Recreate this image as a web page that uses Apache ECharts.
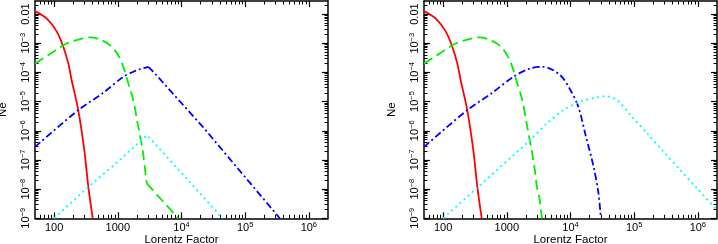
<!DOCTYPE html>
<html><head><meta charset="utf-8">
<script src="https://cdn.jsdelivr.net/npm/echarts@6/dist/echarts.min.js"></script>
<style>html,body{margin:0;padding:0;background:#fff}#c{width:718px;height:244px}</style>
</head><body><div id="c"></div>
<script>
// ---- tick labels ----
const xTickValues = [100, 1000, 1e4, 1e5, 1e6];
const xTickLabels = ['100', '1000', '10^4', '10^5', '10^6'];
const yTickValues = [1e-9, 1e-8, 1e-7, 1e-6, 1e-5, 1e-4, 1e-3, 1e-2];
const yTickLabels = ['10^−9', '10^−8', '10^−7', '10^−6', '10^−5', '10^−4', '10^−3', '0.01'];
const xName = 'Lorentz Factor';
const yName = 'Ne';

// ---- series values [Lorentz factor, Ne] ----
// left panel
const redLeft = [[50,0.0126],[76,7.1e-3],[110,2.5e-3],[139,7.6e-4],[167,2.0e-4],[188,5.5e-5],[239,5.1e-6],[297,2.2e-7],[344,1.2e-8],[403,1e-9]];
const greenLeftCore = [[50,2.0e-4],[97,5.1e-4],[157,9.8e-4],[255,1.38e-3],[366,1.58e-3],[525,1.35e-3],[753,8.6e-4],[1017,3.9e-4],[1218,1.55e-4],[1460,4.2e-5],[1750,1.12e-5],[2090,1.38e-6],[2450,2.2e-7],[2830,1.6e-8]];
const greenLeftTail = [[2830,1.6e-8],[4000,6.9e-9],[6000,2.6e-9],[8900,1e-9]];
const blueLeftRise = [[50,2.8e-7],[239,5.1e-6],[590,2.0e-5],[1220,7.1e-5],[1750,1.05e-4],[2230,1.29e-4],[3010,1.55e-4]];
const blueLeftFall = [[3010,1.55e-4],[3610,1.05e-4],[2.2e4,1.3e-6],[3.5e5,1e-9]];
const cyanLeft = [[100,1e-9],[330,1.1e-8],[1080,1.0e-7],[2840,7e-7],[3610,4.2e-7],[4.4e4,1e-9]];
// right panel
const redRight = [[50,0.0126],[76,7.1e-3],[110,2.5e-3],[139,7.6e-4],[167,2.0e-4],[188,5.5e-5],[239,5.1e-6],[297,2.2e-7],[344,1.2e-8],[403,1e-9]];
const greenRight = [[50,2.0e-4],[97,5.1e-4],[157,9.8e-4],[255,1.38e-3],[366,1.58e-3],[525,1.35e-3],[753,8.6e-4],[1017,3.9e-4],[1218,1.55e-4],[1460,4.2e-5],[1750,1.12e-5],[2090,1.38e-6],[2450,2.2e-7],[2780,4e-8],[2960,1.2e-8],[3250,5e-9],[3550,1e-9]];
const blueRight = [[50,2.8e-7],[239,5.1e-6],[590,2.0e-5],[1270,7.1e-5],[2320,1.37e-4],[3760,1.55e-4],[6870,8.1e-5],[9860,2.6e-5],[1.33e4,6.6e-6],[1.7e4,8.1e-7],[2.3e4,5.9e-8],[2.75e4,7.2e-9],[3.0e4,1e-9]];
const cyanRight = [[100,1e-9],[336,1.07e-8],[2320,4.8e-7],[4250,1.78e-6],[7770,5.1e-6],[1.42e4,1.0e-5],[2.6e4,1.38e-5],[3.5e4,1.55e-5],[5.4e4,1.12e-5],[8.7e4,3.5e-6],[1.6e5,8.1e-7],[2.9e5,1.9e-7],[5.3e5,4.5e-8],[9.7e5,1.07e-8],[2e6,1.9e-9]];

const FONT = 'Liberation Sans, Arial, Helvetica, sans-serif';
const GRIDS = [
  {left: 35, top: 1, width: 293, height: 217.3, containLabel: false, outerBoundsMode: 'none'},
  {left: 424, top: 1, width: 293, height: 217.3, containLabel: false, outerBoundsMode: 'none'}
];
const XMIN = 50, XMAX = 2e6, YMIN = 1e-9, YMAX = 0.028;

function minorTicks(lo, hi) {
  const out = [];
  for (let e = Math.floor(Math.log10(lo)); e <= Math.ceil(Math.log10(hi)); e++) {
    for (let m = 2; m <= 9; m++) {
      const v = m * Math.pow(10, e);
      if (v > lo && v < hi) out.push(v);
    }
  }
  return out;
}
const xMinor = minorTicks(XMIN, XMAX);
const yMinor = minorTicks(YMIN, YMAX);

function rich(label) {
  const i = label.indexOf('^');
  if (i < 0) return '{b|' + label + '}';
  return '{b|' + label.slice(0, i) + '}{s|' + label.slice(i + 1) + '}';
}
function lookup(vals, labels, v) {
  let best = 0, bd = Infinity;
  vals.forEach((t, k) => { const d = Math.abs(Math.log10(t) - Math.log10(v)); if (d < bd) { bd = d; best = k; } });
  return rich(labels[best]);
}
const richStyle = {
  b: {fontSize: 11, fontFamily: FONT, color: '#000', lineHeight: 12, verticalAlign: 'bottom'},
  s: {fontSize: 7.5, fontFamily: FONT, color: '#000', lineHeight: 12, verticalAlign: 'top', padding: [0, 0, 5, 0]}
};

function makeX(g) {
  const base = {type: 'log', logBase: 10, gridIndex: g, min: XMIN, max: XMAX, splitLine: {show: false}, minorTick: {show: false}};
  const line = {show: true, onZero: false, lineStyle: {color: '#000', width: 1.5}};
  return [
    Object.assign({}, base, {position: 'bottom', axisLine: line,
      axisTick: {show: true, inside: true, length: 6, customValues: xTickValues, lineStyle: {color: '#000', width: 1.2}},
      axisLabel: {show: true, margin: 3, customValues: xTickValues, formatter: v => lookup(xTickValues, xTickLabels, v), rich: richStyle},
      name: xName, nameLocation: 'middle', nameGap: 16, nameMoveOverlap: false,
      nameTextStyle: {fontSize: 11.5, fontFamily: FONT, color: '#000'}}),
    Object.assign({}, base, {position: 'bottom', axisLine: {show: false},
      axisTick: {show: true, inside: true, length: 3.5, customValues: xMinor, lineStyle: {color: '#000', width: 1}},
      axisLabel: {show: false}}),
    Object.assign({}, base, {position: 'top', axisLine: line,
      axisTick: {show: true, inside: true, length: 6, customValues: xTickValues, lineStyle: {color: '#000', width: 1.2}},
      axisLabel: {show: false}}),
    Object.assign({}, base, {position: 'top', axisLine: {show: false},
      axisTick: {show: true, inside: true, length: 3.5, customValues: xMinor, lineStyle: {color: '#000', width: 1}},
      axisLabel: {show: false}})
  ];
}
function makeY(g) {
  const base = {type: 'log', logBase: 10, gridIndex: g, min: YMIN, max: YMAX, splitLine: {show: false}, minorTick: {show: false}};
  const line = {show: true, onZero: false, lineStyle: {color: '#000', width: 1.5}};
  return [
    Object.assign({}, base, {position: 'left', axisLine: line,
      axisTick: {show: true, inside: true, length: 6, customValues: yTickValues, lineStyle: {color: '#000', width: 1.2}},
      axisLabel: {show: true, margin: 4, rotate: 90, customValues: yTickValues, formatter: v => lookup(yTickValues, yTickLabels, v), rich: richStyle},
      name: yName, nameLocation: 'middle', nameGap: 26, nameRotate: 90, nameTextStyle: {fontSize: 11.5, fontFamily: FONT, color: '#000'}}),
    Object.assign({}, base, {position: 'left', axisLine: {show: false},
      axisTick: {show: true, inside: true, length: 3.5, customValues: yMinor, lineStyle: {color: '#000', width: 1}},
      axisLabel: {show: false}}),
    Object.assign({}, base, {position: 'right', axisLine: line,
      axisTick: {show: true, inside: true, length: 6, customValues: yTickValues, lineStyle: {color: '#000', width: 1.2}},
      axisLabel: {show: false}}),
    Object.assign({}, base, {position: 'right', axisLine: {show: false},
      axisTick: {show: true, inside: true, length: 3.5, customValues: yMinor, lineStyle: {color: '#000', width: 1}},
      axisLabel: {show: false}})
  ];
}

function ser(data, g, color, type, smooth) {
  return {type: 'line', data: data, xAxisIndex: g * 4, yAxisIndex: g * 4, showSymbol: false, symbol: 'none',
    smooth: smooth, clip: true, animation: false, z: 1,
    lineStyle: {color: color, width: 1.8, type: type}};
}
const RED = '#ff0000', GREEN = '#00ee00', BLUE = '#0000ff', CYAN = '#00ffff';
const SOLID = 'solid', DASH = [10, 5], DASHDOT = [7, 3, 2, 3], DOT = [2, 3.5];

const chart = echarts.init(document.getElementById('c'), null, {renderer: 'canvas'});
chart.setOption({
  animation: false,
  backgroundColor: '#fff',
  grid: GRIDS,
  xAxis: makeX(0).concat(makeX(1)),
  yAxis: makeY(0).concat(makeY(1)),
  series: [
    ser(redLeft, 0, RED, SOLID, 0.3),
    ser(greenLeftCore, 0, GREEN, DASH, 0.3),
    ser(greenLeftTail, 0, GREEN, DASH, false),
    ser(blueLeftRise, 0, BLUE, DASHDOT, 0.3),
    ser(blueLeftFall, 0, BLUE, DASHDOT, false),
    ser(cyanLeft, 0, CYAN, DOT, false),
    ser(redRight, 1, RED, SOLID, 0.3),
    ser(greenRight, 1, GREEN, DASH, 0.3),
    ser(blueRight, 1, BLUE, DASHDOT, 0.3),
    ser(cyanRight, 1, CYAN, DOT, 0.3)
  ]
});
</script></body></html>
